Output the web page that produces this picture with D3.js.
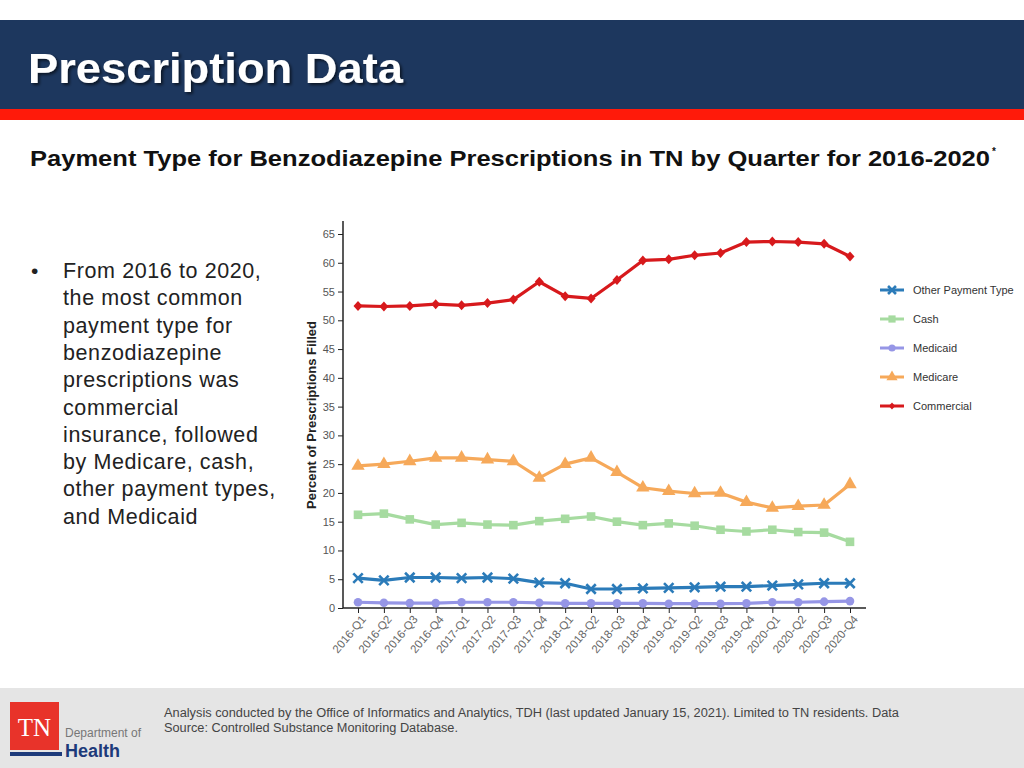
<!DOCTYPE html>
<html><head><meta charset="utf-8">
<script src="https://cdnjs.cloudflare.com/ajax/libs/d3/7.8.5/d3.min.js"></script>
<style>
html,body{margin:0;padding:0;background:#fff;}
svg{display:block;}
</style></head>
<body>
<svg id="c" width="1024" height="768"></svg>
<script>
const quarters = ["2016-Q1","2016-Q2","2016-Q3","2016-Q4","2017-Q1","2017-Q2","2017-Q3","2017-Q4","2018-Q1","2018-Q2","2018-Q3","2018-Q4","2019-Q1","2019-Q2","2019-Q3","2019-Q4","2020-Q1","2020-Q2","2020-Q3","2020-Q4"];
const commercial = [52.5,52.4,52.5,52.8,52.6,53.0,53.6,56.7,54.2,53.8,57.0,60.4,60.6,61.3,61.7,63.6,63.7,63.6,63.3,61.1];
const medicare   = [24.7,25.0,25.5,26.1,26.1,25.8,25.5,22.6,25.0,26.1,23.6,20.9,20.3,19.9,20.0,18.4,17.4,17.7,17.9,21.5];
const cash       = [16.2,16.4,15.4,14.5,14.8,14.5,14.4,15.1,15.5,15.9,15.0,14.4,14.7,14.3,13.6,13.3,13.6,13.2,13.1,11.5];
const other      = [5.2,4.8,5.3,5.3,5.2,5.3,5.1,4.4,4.3,3.3,3.3,3.4,3.5,3.6,3.7,3.7,3.9,4.1,4.3,4.3];
const medicaid   = [1.0,0.9,0.85,0.85,1.0,1.0,1.0,0.9,0.8,0.8,0.8,0.8,0.75,0.75,0.75,0.8,1.0,1.0,1.1,1.2];
const yTicks = [0,5,10,15,20,25,30,35,40,45,50,55,60,65];
const seriesNames = ["Other Payment Type","Cash","Medicaid","Medicare","Commercial"];
const seriesColors = ["#2b7bb9","#a6dba0","#9696e6","#f6a95a","#d7191c"];
const seriesMarkers = ["x","square","circle","triangle","diamond"];
const seriesValues = [other, cash, medicaid, medicare, commercial];
const bullet = ["From 2016 to 2020,","the most common","payment type for","benzodiazepine","prescriptions was","commercial","insurance, followed","by Medicare, cash,","other payment types,","and Medicaid"];

const svg = d3.select("#c");
const sans = "'Liberation Sans', Arial, Helvetica, sans-serif";

// header
svg.append("rect").attr("x",0).attr("y",20).attr("width",1024).attr("height",89).attr("fill","#1d375e");
svg.append("rect").attr("x",0).attr("y",109).attr("width",1024).attr("height",11).attr("fill","#ff1a0a");
const defs = svg.append("defs");
const f = defs.append("filter").attr("id","sh").attr("x","-10%").attr("y","-20%").attr("width","130%").attr("height","150%");
f.append("feDropShadow").attr("dx",2).attr("dy",2).attr("stdDeviation",1.5).attr("flood-color","#000").attr("flood-opacity",0.6);
svg.append("text").attr("x",28).attr("y",83).attr("fill","#fff").attr("font-family",sans)
  .attr("font-weight","bold").attr("font-size",43).attr("filter","url(#sh)").attr("textLength",375).attr("lengthAdjust","spacingAndGlyphs").text("Prescription Data");

// subtitle
svg.append("text").attr("x",30).attr("y",166).attr("fill","#111").attr("font-family",sans)
  .attr("font-weight","bold").attr("font-size",22).attr("textLength",960).attr("lengthAdjust","spacingAndGlyphs")
  .text("Payment Type for Benzodiazepine Prescriptions in TN by Quarter for 2016-2020");
svg.append("text").attr("x",992).attr("y",155).attr("fill","#111").attr("font-family",sans).attr("font-weight","bold").attr("font-size",10).text("*");

// bullet
svg.append("text").attr("x",31).attr("y",278).attr("font-family",sans).attr("font-size",21).attr("fill","#222").text("•");
svg.append("g").selectAll("text").data(bullet).join("text")
  .attr("x",63).attr("y",(d,i)=>278+i*27.3).attr("font-family",sans).attr("font-size",21.5).attr("letter-spacing",0.6).attr("fill","#222").text(d=>d);

// chart
const x = d3.scalePoint().domain(quarters).range([358,850]);
const y = d3.scaleLinear().domain([0,65]).range([608,234]);
const g = svg.append("g");

const yAxis = g.append("g").attr("transform","translate(343,0)")
  .call(d3.axisLeft(y).tickValues(yTicks).tickSize(5).tickPadding(3).tickSizeOuter(0));
yAxis.select(".domain").attr("d","M0,221V608").attr("stroke","#222").attr("stroke-width",1.5);
yAxis.selectAll(".tick line").attr("stroke","#222");
yAxis.selectAll("text").attr("font-family",sans).attr("font-size",11).attr("fill","#555");

const xAxis = g.append("g").attr("transform","translate(0,608)")
  .call(d3.axisBottom(x).tickSize(5).tickSizeOuter(0));
xAxis.select(".domain").attr("d","M343,0H866").attr("stroke","#222").attr("stroke-width",1.5);
xAxis.selectAll(".tick line").attr("stroke","#222");
xAxis.selectAll("text").attr("font-family",sans).attr("font-size",11.5).attr("fill","#666")
  .attr("text-anchor","end").attr("transform","translate(5,9) rotate(-50)").attr("y",0).attr("dy","0.35em").attr("dx","0");

svg.append("text").attr("transform","translate(316,415) rotate(-90)").attr("text-anchor","middle")
  .attr("font-family",sans).attr("font-weight","bold").attr("font-size",13).attr("fill","#222")
  .text("Percent of Prescriptions Filled");

function marker(sel, type, color, s){
  if(type==="x"){
    const r=s*1.1;
    sel.append("path").attr("d",`M${-r},${-r}L${r},${r}M${-r},${r}L${r},${-r}`).attr("stroke",color).attr("stroke-width",2.6).attr("fill","none");
  } else if(type==="square"){
    sel.append("rect").attr("x",-s).attr("y",-s).attr("width",2*s).attr("height",2*s).attr("fill",color);
  } else if(type==="circle"){
    sel.append("circle").attr("r",s).attr("fill",color);
  } else if(type==="triangle"){
    sel.append("path").attr("d",d3.symbol(d3.symbolTriangle, s*s*4.2)()).attr("fill",color);
  } else if(type==="diamond"){
    sel.append("path").attr("d",`M0,${-s}L${s*0.9},0L0,${s}L${-s*0.9},0Z`).attr("fill",color);
  }
}
const line = d3.line().x((d,i)=>x(quarters[i])).y(d=>y(d));
const drawOrder = [2,0,1,3,4];
drawOrder.forEach(k=>{
  const col = seriesColors[k];
  g.append("path").datum(seriesValues[k]).attr("d",line).attr("fill","none").attr("stroke",col).attr("stroke-width",3.2).attr("stroke-linejoin","round");
  seriesValues[k].forEach((v,i)=>{
    const m = g.append("g").attr("transform",`translate(${x(quarters[i])},${y(v)})`);
    marker(m, seriesMarkers[k], col, seriesMarkers[k]==="diamond"?5:4.3);
  });
});

// legend
const lg = svg.append("g");
seriesNames.forEach((n,i)=>{
  const yy = 290 + i*29;
  lg.append("line").attr("x1",880).attr("x2",904).attr("y1",yy).attr("y2",yy).attr("stroke",seriesColors[i]).attr("stroke-width",3);
  const m = lg.append("g").attr("transform",`translate(892,${yy})`);
  marker(m, seriesMarkers[i], seriesColors[i], 3.6);
  lg.append("text").attr("x",913).attr("y",yy+4).attr("font-family",sans).attr("font-size",11).attr("fill","#333").text(n);
});

// footer
svg.append("rect").attr("x",0).attr("y",688).attr("width",1024).attr("height",80).attr("fill","#e5e5e5");
svg.append("rect").attr("x",10).attr("y",702).attr("width",49).attr("height",48).attr("fill","#e8332a");
svg.append("text").attr("x",34.5).attr("y",736).attr("text-anchor","middle").attr("font-family","'Liberation Serif', 'DejaVu Serif', serif").attr("font-size",25).attr("fill","#fff").text("TN");
svg.append("rect").attr("x",10).attr("y",752).attr("width",52).attr("height",4).attr("fill","#1d3a7a");
svg.append("text").attr("x",65).attr("y",737).attr("font-family",sans).attr("font-size",12).attr("fill","#777").text("Department of");
svg.append("text").attr("x",65).attr("y",757).attr("font-family",sans).attr("font-weight","bold").attr("font-size",18).attr("fill","#1d3a7a").text("Health");
const foot = ["Analysis conducted by the Office of Informatics and Analytics, TDH (last updated January 15, 2021). Limited to TN residents. Data","Source: Controlled Substance Monitoring Database."];
const footLen = [735, 294];
svg.append("g").selectAll("text").data(foot).join("text").attr("x",164).attr("y",(d,i)=>717+i*15)
  .attr("font-family",sans).attr("font-size",12).attr("fill","#444")
  .attr("textLength",(d,i)=>footLen[i]).attr("lengthAdjust","spacingAndGlyphs").text(d=>d);
</script>
</body></html>
